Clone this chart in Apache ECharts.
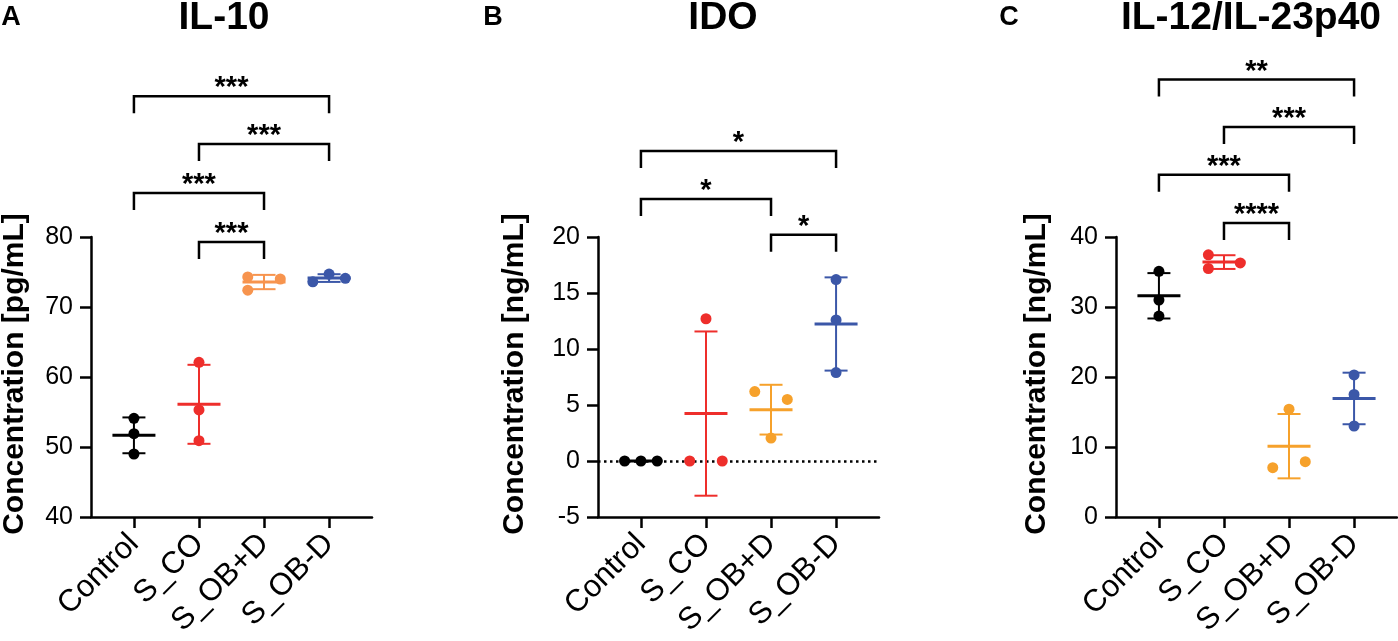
<!DOCTYPE html>
<html lang="en">
<head>
    <meta charset="UTF-8">
    <title>IL-10 / IDO / IL-12</title>
    <style>
        html, body { margin: 0; padding: 0; background: #fff; }
        #main { width: 1398px; height: 641px; }
    </style>
    <script src="https://cdn.jsdelivr.net/npm/echarts@6/dist/echarts.min.js"></script>
</head>
<body>
<div id="main"></div>
<script type="text/javascript">
    // groups on the x axis
    var groups = ['Control', 'S_CO', 'S_OB+D', 'S_OB-D'];

    // IL-10 [pg/mL], three replicates per group
    var il10Values = [
        [54.1, 51.9, 49.0],
        [62.1, 55.3, 50.9],
        [74.3, 72.4, 74.0],
        [73.6, 74.7, 74.1]
    ];
    // IDO [ng/mL]
    var idoValues = [
        [0, 0, 0],
        [0, 12.7, 0],
        [6.2, 2.05, 5.5],
        [16.2, 12.6, 7.9]
    ];
    // IL-12/IL-23p40 [ng/mL]
    var il12Values = [
        [35.1, 31.0, 28.7],
        [37.45, 35.5, 36.3],
        [15.4, 7.05, 7.9],
        [20.3, 17.5, 13.0]
    ];

    // significance brackets: [from group, to group, height in data units, stars]
    var il10Brackets = [[0, 3, 100.1, '***'], [1, 3, 93.3, '***'], [0, 2, 86.3, '***'], [1, 2, 79.3, '***']];
    var idoBrackets = [[0, 3, 27.67, '*'], [0, 2, 23.4, '*'], [2, 3, 20.2, '*']];
    var il12Brackets = [[0, 3, 62.5, '**'], [1, 3, 55.7, '***'], [0, 2, 48.9, '***'], [1, 2, 42.0, '****']];

    // horizontal spread of overlapping dots (as GraphPad places them)
    var il10Jitter = [[0, 0, 0], [0, 0, 0], [-0.25, -0.25, 0.25], [-0.25, 0, 0.25]];
    var idoJitter = [[-0.25, 0, 0.25], [-0.25, 0, 0.25], [-0.25, 0, 0.25], [0, 0, 0]];
    var il12Jitter = [[0, 0, 0], [-0.24, -0.24, 0.25], [0, -0.25, 0.25], [0, 0, 0]];

    var FONT = '"Liberation Sans", Arial, Helvetica, sans-serif';
    var colorsA = ['#000000', '#ee2e2b', '#f7944e', '#3b57a8'];
    var colorsBC = ['#000000', '#ee2e2b', '#f6a12b', '#3b57a8'];

    function mean(a) {
        return a.reduce(function (s, v) { return s + v; }, 0) / a.length;
    }
    function sd(a) {
        var m = mean(a);
        var ss = a.reduce(function (s, v) { return s + (v - m) * (v - m); }, 0);
        return Math.sqrt(ss / (a.length - 1));
    }

    var myChart = echarts.init(document.getElementById('main'));

    var grids = [], xAxes = [], yAxes = [], series = [];
    var gridLeft = [91, 598, 1116];

    function addPanel(i, values, jitter, colors, brackets, yMin, yMax, yStep, zeroLine) {
        grids.push({ left: gridLeft[i], top: 237, width: 281, height: 280 });
        xAxes.push({
            gridIndex: i, type: 'value', min: -0.66, max: 3.66,
            splitLine: { show: false },
            axisLine: { onZero: false, lineStyle: { color: '#000', width: 2.5 } },
            axisTick: { customValues: [0, 1, 2, 3], length: 11, lineStyle: { color: '#000', width: 2.5 } },
            axisLabel: {
                customValues: [0, 1, 2, 3], rotate: 45, margin: 22,
                fontSize: 31, color: '#000', fontFamily: FONT,
                formatter: function (v) { return groups[Math.round(v)]; }
            }
        });
        yAxes.push({
            gridIndex: i, type: 'value', min: yMin, max: yMax, interval: yStep,
            splitLine: { show: false },
            axisLine: { show: true, onZero: false, lineStyle: { color: '#000', width: 2.5 } },
            axisTick: { show: true, length: 11, lineStyle: { color: '#000', width: 2.5 } },
            axisLabel: { margin: 18, fontSize: 25, color: '#000', fontFamily: FONT }
        });

        // mean line + SD whiskers
        var stats = values.map(function (v, g) { return [g, mean(v), sd(v)]; });
        series.push({
            type: 'custom', xAxisIndex: i, yAxisIndex: i, z: 2, silent: true,
            data: stats,
            renderItem: function (params, api) {
                var g = api.value(0), m = api.value(1), s = api.value(2);
                var c = api.coord([g, m]);
                var t = api.coord([g, m + s]);
                var b = api.coord([g, m - s]);
                var col = colors[g];
                var st = { stroke: col, lineWidth: 2 };
                return {
                    type: 'group',
                    children: [
                        { type: 'line', shape: { x1: c[0], y1: t[1], x2: c[0], y2: b[1] }, style: st },
                        { type: 'line', shape: { x1: c[0] - 11.5, y1: t[1], x2: c[0] + 11.5, y2: t[1] }, style: st },
                        { type: 'line', shape: { x1: c[0] - 11.5, y1: b[1], x2: c[0] + 11.5, y2: b[1] }, style: st },
                        { type: 'line', shape: { x1: c[0] - 21.5, y1: c[1], x2: c[0] + 21.5, y2: c[1] },
                          style: { stroke: col, lineWidth: 3 } }
                    ]
                };
            }
        });

        // replicate dots
        values.forEach(function (vals, g) {
            var s = {
                type: 'scatter', xAxisIndex: i, yAxisIndex: i, z: 3,
                symbolSize: 11,
                itemStyle: { color: colors[g], opacity: 1 },
                data: vals.map(function (v, k) { return [g + jitter[g][k], v]; })
            };
            if (zeroLine && g === 0) {
                s.markLine = {
                    silent: true, symbol: 'none', z: 1,
                    label: { show: false },
                    lineStyle: { color: '#000', width: 2.5, type: [2.5, 3.5] },
                    data: [{ yAxis: 0 }]
                };
            }
            series.push(s);
        });

        // significance brackets above the plot
        series.push({
            type: 'custom', xAxisIndex: i, yAxisIndex: i, z: 4, silent: true, clip: false,
            data: brackets.map(function (b) { return [b[0], b[2]]; }),
            renderItem: function (params, api) {
                var b = brackets[params.dataIndex];
                var p1 = api.coord([b[0], b[2]]);
                var p2 = api.coord([b[1], b[2]]);
                var drop = 17;
                return {
                    type: 'group',
                    children: [
                        { type: 'polyline',
                          shape: { points: [[p1[0], p1[1] + drop], [p1[0], p1[1]], [p2[0], p2[1]], [p2[0], p2[1] + drop]] },
                          style: { stroke: '#000', lineWidth: 2.5, fill: null } },
                        { type: 'text',
                          style: { text: b[3], x: (p1[0] + p2[0]) / 2, y: p1[1] - 8,
                                   align: 'center', verticalAlign: 'middle',
                                   font: 'bold 29px ' + FONT, fill: '#000' } }
                    ]
                };
            }
        });
    }

    addPanel(0, il10Values, il10Jitter, colorsA, il10Brackets, 40, 80, 10, false);
    addPanel(1, idoValues, idoJitter, colorsBC, idoBrackets, -5, 20, 5, true);
    addPanel(2, il12Values, il12Jitter, colorsBC, il12Brackets, 0, 40, 10, false);

    function label(text, x, y, size, extra) {
        var el = {
            type: 'text', x: x, y: y,
            style: { text: text, align: 'center', verticalAlign: 'middle',
                     font: 'bold ' + size + 'px ' + FONT, fill: '#000' }
        };
        if (extra) { el.rotation = extra; }
        return el;
    }

    var option = {
        animation: false,
        textStyle: { fontFamily: FONT },
        grid: grids,
        xAxis: xAxes,
        yAxis: yAxes,
        series: series,
        graphic: [
            label('A', 11, 18, 27),
            label('B', 493, 18, 27),
            label('C', 1009, 18, 27),
            label('IL-10', 224, 18, 39),
            label('IDO', 723, 18, 39),
            label('IL-12/IL-23p40', 1251, 18, 39),
            label('Concentration [pg/mL]', 15, 374, 30, Math.PI / 2),
            label('Concentration [ng/mL]', 515, 374, 30, Math.PI / 2),
            label('Concentration [ng/mL]', 1037, 374, 30, Math.PI / 2)
        ]
    };

    myChart.setOption(option);
</script>
</body>
</html>
